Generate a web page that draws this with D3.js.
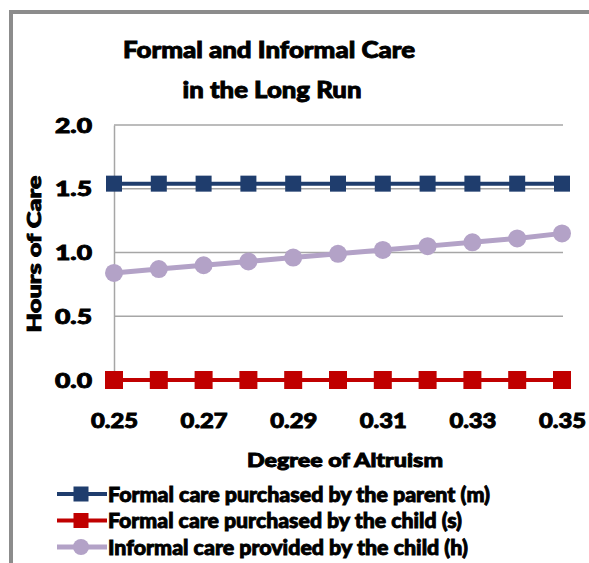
<!DOCTYPE html>
<html>
<head>
<meta charset="utf-8">
<script src="https://cdn.jsdelivr.net/npm/d3@7"></script>
<style>
  html, body { margin: 0; padding: 0; background: #fff; }
  svg { display: block; }
  text { font-family: "Lato", "Open Sans", sans-serif; font-weight: 900; fill: #000; stroke: #000; stroke-width: 0.9; }
</style>
</head>
<body>
<svg id="chart" width="589" height="563"></svg>
<script>
// Degree of altruism on the x axis
const altruism = [0.25, 0.26, 0.27, 0.28, 0.29, 0.30, 0.31, 0.32, 0.33, 0.34, 0.35];
// Hours of care for each series
const parentFormal = [1.54, 1.54, 1.54, 1.54, 1.54, 1.54, 1.54, 1.54, 1.54, 1.54, 1.54];
const childFormal = [0, 0, 0, 0, 0, 0, 0, 0, 0, 0, 0];
const childInformal = [0.84, 0.87, 0.90, 0.93, 0.96, 0.99, 1.02, 1.05, 1.08, 1.11, 1.15];
const seriesNames = [
  "Formal care purchased by the parent (m)",
  "Formal care purchased by the child (s)",
  "Informal care provided by the child (h)"
];
const xTickValues = [0.25, 0.27, 0.29, 0.31, 0.33, 0.35];
const yTickValues = [0, 0.5, 1.0, 1.5, 2.0];

const svg = d3.select("#chart");

// outer frame (left and top edges)
svg.append("line").attr("x1", 11).attr("x2", 11).attr("y1", 10).attr("y2", 563)
  .attr("stroke", "#8c8c8c").attr("stroke-width", 4);
svg.append("line").attr("x1", 9).attr("x2", 589).attr("y1", 12).attr("y2", 12)
  .attr("stroke", "#8c8c8c").attr("stroke-width", 4);

const x = d3.scaleLinear().domain([0.25, 0.35]).range([114, 562]);
const y = d3.scaleLinear().domain([0, 2]).range([380, 125]);

// horizontal gridlines
svg.append("g").selectAll("line").data(yTickValues.filter(v => v > 0)).join("line")
  .attr("x1", x(0.25)).attr("x2", 563)
  .attr("y1", d => y(d)).attr("y2", d => y(d))
  .attr("stroke", "#a6a6a6").attr("stroke-width", 1.5);

// y axis
const yAxis = svg.append("g").attr("transform", `translate(${x(0.25)},0)`)
  .call(d3.axisLeft(y).tickValues(yTickValues).tickFormat(d3.format(".1f")).tickSize(0).tickPadding(22));
yAxis.select(".domain").attr("stroke", "#a6a6a6").attr("stroke-width", 1.5);
yAxis.selectAll("text").attr("font-size", 20).attr("dy", "0.36em")
  .attr("textLength", 37).attr("lengthAdjust", "spacingAndGlyphs");

// x axis labels
const xAxis = svg.append("g").attr("transform", `translate(0,${y(0)})`)
  .call(d3.axisBottom(x).tickValues(xTickValues).tickFormat(d3.format(".2f")).tickSize(0).tickPadding(30));
xAxis.select(".domain").remove();
xAxis.selectAll("text").attr("font-size", 20).attr("dy", "0.36em").attr("y", 41)
  .attr("textLength", 47).attr("lengthAdjust", "spacingAndGlyphs");

// axis titles
svg.append("text").attr("x", 345).attr("y", 467).attr("text-anchor", "middle")
  .attr("font-size", 19).attr("textLength", 196).attr("lengthAdjust", "spacingAndGlyphs")
  .text("Degree of Altruism");
svg.append("text").attr("transform", "translate(41,254) rotate(-90)").attr("text-anchor", "middle")
  .attr("font-size", 19).attr("textLength", 157).attr("lengthAdjust", "spacingAndGlyphs")
  .text("Hours of Care");

// title
svg.append("text").attr("x", 269).attr("y", 58).attr("text-anchor", "middle")
  .attr("font-size", 23).attr("textLength", 292).attr("lengthAdjust", "spacingAndGlyphs")
  .text("Formal and  Informal Care");
svg.append("text").attr("x", 272).attr("y", 98).attr("text-anchor", "middle")
  .attr("font-size", 23).attr("textLength", 179).attr("lengthAdjust", "spacingAndGlyphs")
  .text("in the Long Run");

const series = [
  { name: seriesNames[0], values: parentFormal, color: "#1f3d6d", width: 4, marker: "square", size: 16 },
  { name: seriesNames[1], values: childFormal, color: "#c00000", width: 4, marker: "square", size: 18 },
  { name: seriesNames[2], values: childInformal, color: "#b3a2c7", width: 5, marker: "circle", size: 9 }
];

const line = d3.line().x((d, i) => x(altruism[i])).y(d => y(d));

function drawMarker(g, s, cx, cy) {
  if (s.marker === "square") {
    g.append("rect").attr("x", cx - s.size / 2).attr("y", cy - s.size / 2)
      .attr("width", s.size).attr("height", s.size).attr("fill", s.color);
  } else {
    g.append("circle").attr("cx", cx).attr("cy", cy).attr("r", s.size).attr("fill", s.color);
  }
}

series.forEach(s => {
  const g = svg.append("g");
  g.append("path").datum(s.values).attr("d", line)
    .attr("fill", "none").attr("stroke", s.color).attr("stroke-width", s.width);
  s.values.forEach((v, i) => drawMarker(g, s, x(altruism[i]), y(v)));
});

// legend
const legendWidths = [382, 354, 360];
series.forEach((s, i) => {
  const ly = 494 + i * 26.5;
  const g = svg.append("g");
  g.append("line").attr("x1", 57).attr("x2", 107).attr("y1", ly).attr("y2", ly)
    .attr("stroke", s.color).attr("stroke-width", s.width);
  const ms = { ...s, size: s.marker === "square" ? 15 : 8 };
  drawMarker(g, ms, 81, ly);
  g.append("text").attr("x", 108).attr("y", ly).attr("dy", "0.36em")
    .attr("font-size", 21).attr("textLength", legendWidths[i]).attr("lengthAdjust", "spacingAndGlyphs")
    .text(s.name);
});
</script>
</body>
</html>
